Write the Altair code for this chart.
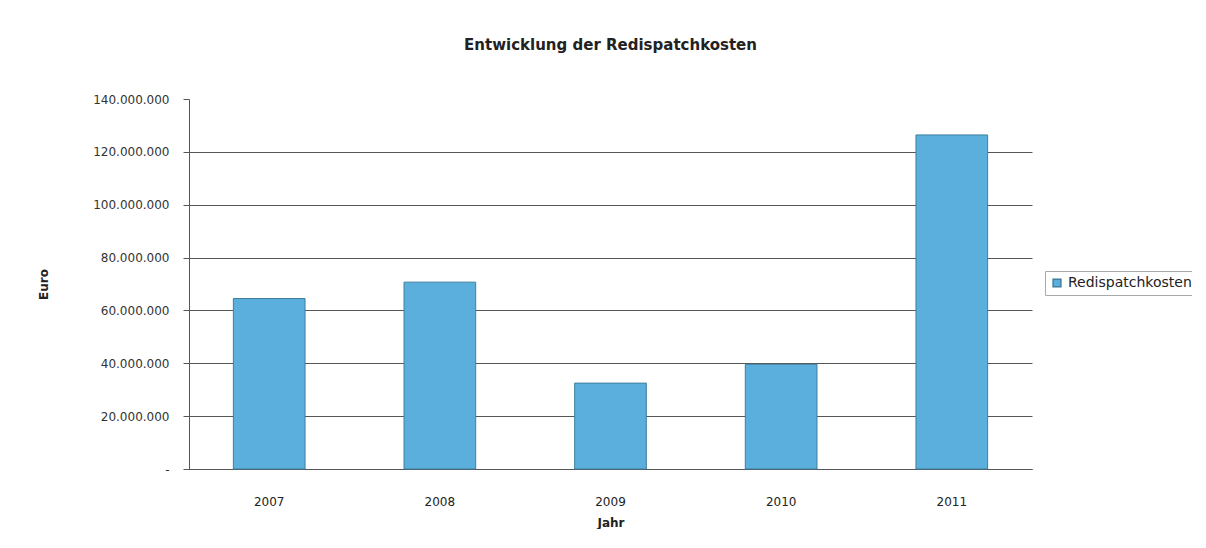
import altair as alt
import pandas as pd

years = ["2007", "2008", "2009", "2010", "2011"]
costs = [64500000, 70700000, 32500000, 39600000, 126400000]
series = ["Redispatchkosten"] * len(years)
y_ticks = [0, 20000000, 40000000, 60000000, 80000000, 100000000, 120000000, 140000000]

df = pd.DataFrame({"Jahr": years, "Euro": costs, "Reihe": series})

FONT = "DejaVu Sans"

label_expr = ("datum.value == 0 ? '-' : replace(format(datum.value, ',.0f'), /,/g, '.')")

bars = alt.Chart(df).mark_bar(stroke="#3f7f9f", strokeWidth=1, color="#5aafdc").encode(
    x=alt.X("Jahr:N", title="Jahr", sort=years,
            scale=alt.Scale(paddingInner=0.58, paddingOuter=0.26),
            axis=alt.Axis(labelAngle=0, labelFont=FONT, labelFontSize=12, labelColor="#222",
                          titleFont=FONT, titleFontSize=12, titleFontWeight="bold", titleColor="#222",
                          titlePadding=10, labelPadding=27, ticks=False, domainColor="#555",
                          grid=False)),
    y=alt.Y("Euro:Q", title="Euro",
            scale=alt.Scale(domain=[0, 140000000], nice=False),
            axis=alt.Axis(values=y_ticks, labelExpr=label_expr, labelFont=FONT, labelFontSize=12,
                          labelColor="#333", titleFont=FONT, titleFontSize=12, titleFontWeight="bold",
                          titleColor="#222", titlePadding=42, ticks=True, tickSize=6, tickColor="#555",
                          domainColor="#555", gridColor="#555", gridWidth=1, labelPadding=14,
                          gridOpacity={"condition": {"test": "datum.value >= 140000000", "value": 0},
                                       "value": 1})),
    fill=alt.Fill("Reihe:N", scale=alt.Scale(range=["#5aafdc"]),
                  legend=alt.Legend(title=None, labelFont=FONT, labelFontSize=14, labelColor="#222",
                                    symbolType="square", symbolSize=60, strokeColor="#aaa",
                                    padding=5, orient="none", legendX=1045 - 189, legendY=172)),
)

chart = bars.properties(
    width=843, height=370,
    background="white",
    title=alt.TitleParams("Entwicklung der Redispatchkosten", font=FONT, fontSize=15,
                          fontWeight="bold", color="#222", anchor="middle", offset=40, dx=0),
    autosize=alt.AutoSizeParams(type="none"),
    padding={"left": 181, "top": 91, "right": 160, "bottom": 60},
).configure_view(strokeWidth=0, stroke="transparent")

chart.save("out.html", embed_options={"renderer": "svg", "actions": False})
